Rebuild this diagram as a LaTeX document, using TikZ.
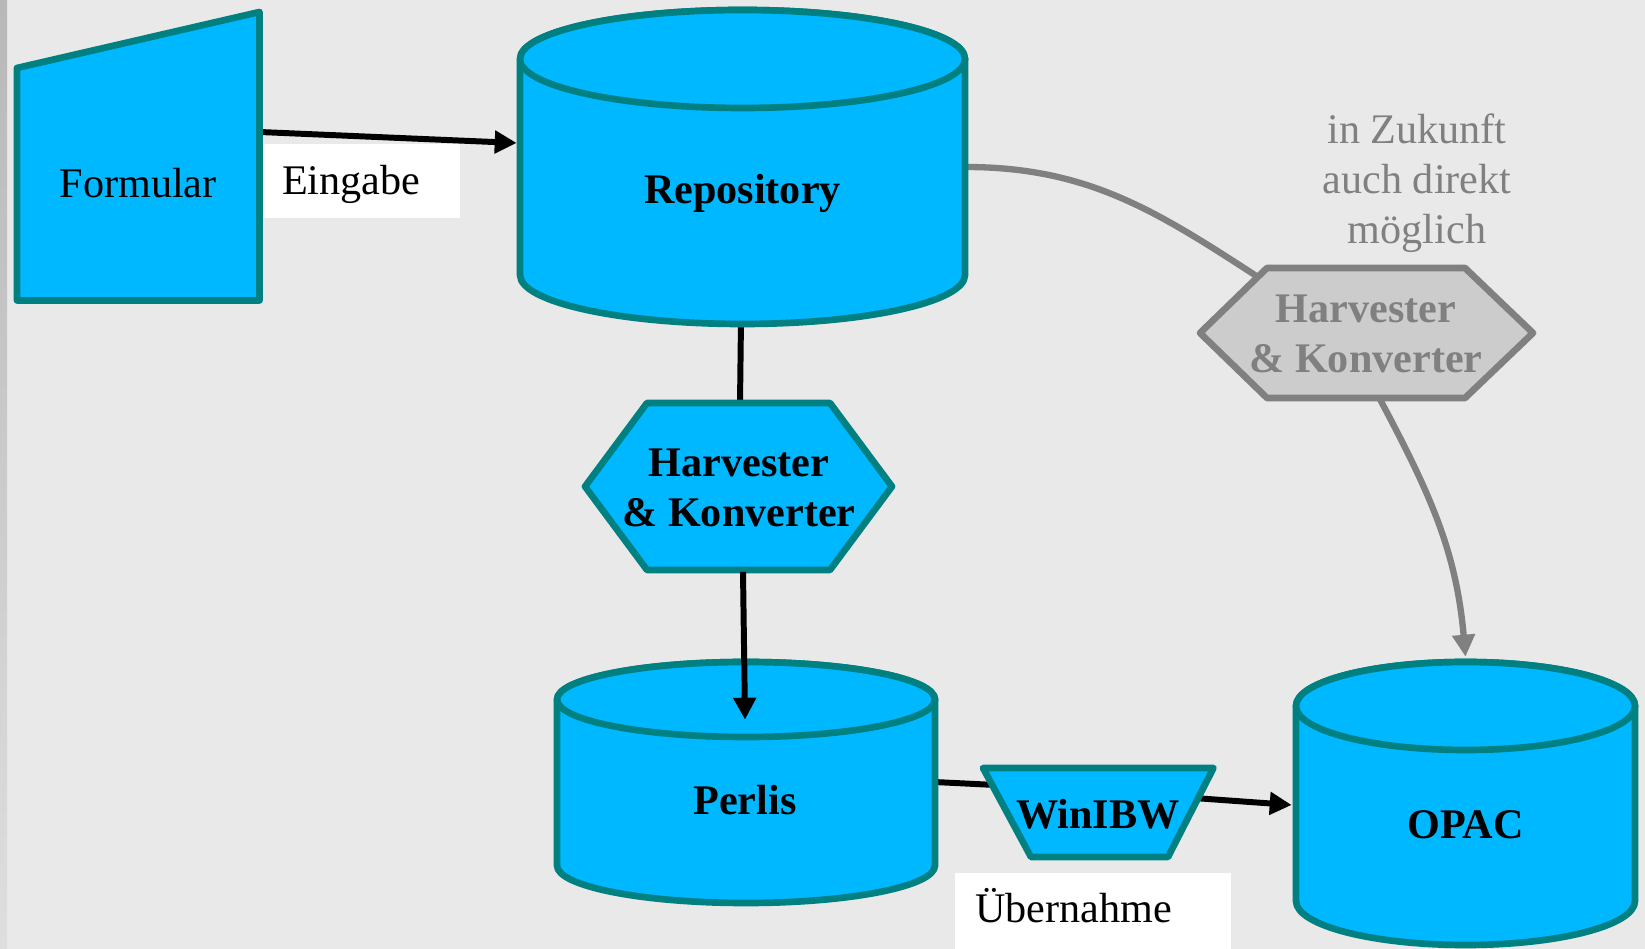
\documentclass[tikz,border=0pt]{standalone}
\usepackage{fontspec}
\setmainfont{Liberation Serif}
\usetikzlibrary{arrows.meta}
\definecolor{nodeblue}{RGB}{0,184,255}
\definecolor{nodeteal}{RGB}{0,128,128}
\definecolor{bggray}{RGB}{233,233,233}
\definecolor{futuregray}{RGB}{128,128,128}
\definecolor{hexgray}{RGB}{204,204,204}
\definecolor{stripdark}{RGB}{184,184,184}
\definecolor{striplight}{RGB}{222,222,222}
\pgfdeclarelayer{bg}
\pgfdeclarelayer{links}
\pgfsetlayers{bg,links,main}
\tikzset{
	shapeline/.style={draw=nodeteal, fill=nodeblue, line width=3.8pt, line join=round},
	greyshape/.style={draw=futuregray, fill=hexgray, line width=3.8pt, line join=round},
	conn/.style={draw=black, line width=3.4pt},
	arrowconn/.style={conn, -{Triangle[length=12.5pt,width=12.5pt]}},
	greyconn/.style={draw=futuregray, line width=3.6pt},
	nodetext/.style={inner sep=0pt, font={\fontsize{24}{28.5}\selectfont\bfseries}, align=center},
	plaintext/.style={inner sep=0pt, font={\fontsize{24}{28.5}\selectfont}, align=center},
	labelbox/.style={plaintext, fill=white, align=left, inner ysep=0pt}
}
\begin{document}
\begin{tikzpicture}[x=0.02cm, y=0.02cm]
		\useasboundingbox (0,0) rectangle (1645,949);
		\begin{pgfonlayer}{bg}
		\fill[bggray] (0,0) rectangle (1645,949);
		\shade[top color=stripdark, bottom color=striplight] (0,0) rectangle (7,949);
		\end{pgfonlayer}
		
		\draw[shapeline] (17,648.5) -- (17,881) -- (259.5,937) -- (259.5,648.5) -- cycle;
		
		\draw[shapeline] (520,890) -- (520,674) arc[start angle=180, end angle=360, x radius=222.5, y radius=49] -- (965,890) arc[start angle=0, end angle=180, x radius=222.5, y radius=49] -- cycle;
		\draw[shapeline] (742.5,890) ellipse [x radius=222.5, y radius=49];
		
		\draw[shapeline] (557,249.5) -- (557,83.5) arc[start angle=180, end angle=360, x radius=189, y radius=37.5] -- (935,249.5) arc[start angle=0, end angle=180, x radius=189, y radius=37.5] -- cycle;
		\draw[shapeline] (746,249.5) ellipse [x radius=189, y radius=37.5];
		
		\draw[shapeline] (1296,243) -- (1296,48) arc[start angle=180, end angle=360, x radius=169.5, y radius=44] -- (1635,243) arc[start angle=0, end angle=180, x radius=169.5, y radius=44] -- cycle;
		\draw[shapeline] (1465.5,243) ellipse [x radius=169.5, y radius=44];
		
		\draw[shapeline] (585,462.5) -- (647,546) -- (830,546) -- (892,462.5) -- (830,379) -- (647,379) -- cycle;
		\draw[greyshape] (1200,616) -- (1267,681) -- (1465,681) -- (1533,616) -- (1465,551) -- (1267,551) -- cycle;
		\draw[shapeline] (983,181) -- (1213.5,181) -- (1168,92) -- (1031,92) -- cycle;
		
		\node[plaintext, minimum width=4.85cm] (formular) at (138.25,766) {Formular};
		\node[labelbox, minimum width=3.94cm, minimum height=1.48cm, text width=3.18cm, inner xsep=0.38cm, text height=20.6pt, text depth=4.8pt] (eingabe) at (361.5,768) {Eingabe};
		\node[nodetext, minimum width=8.9cm] (repo) at (742.5,756) {Repository};
		\node[nodetext, minimum width=6.14cm, minimum height=3.34cm] (hvblue) at (739,461) {Harvester\\\& Konverter};
		\node[nodetext, minimum width=7.56cm, minimum height=3.2cm] (perlis) at (745,149) {Perlis};
		\node[nodetext] (winibw) at (1098,135) {WinIBW};
		\node[labelbox, minimum width=5.52cm, minimum height=1.6cm, text width=4.72cm, inner xsep=0.4cm, text height=15.1pt, text depth=4.8pt] (uebernahme) at (1093,36) {Übernahme};
		\node[nodetext, minimum width=6.78cm, minimum height=6.72cm] (opac) at (1465.5,124) {OPAC};
		\node[nodetext, text=futuregray, minimum width=6.64cm, minimum height=2.6cm] (hvgrey) at (1366,615) {Harvester\\\& Konverter};
		\node[plaintext, text=futuregray] (future) at (1417,766) {in Zukunft\\auch direkt\\möglich};
		
		\begin{pgfonlayer}{links}
		\draw[arrowconn] ([yshift=1.02cm]formular.east) -- ([xshift=-0.06cm, yshift=1cm]repo.west);
		\draw[conn] (repo) -- (hvblue);
		\draw[conn] ([yshift=0.36cm]perlis.east) -- ([yshift=0.56cm]winibw.west);
		\draw[arrowconn] ([yshift=0.34cm]winibw.east) -- ([xshift=-0.08cm, yshift=0.4cm]opac.west);
		\draw[greyconn] ([yshift=0.52cm]repo.east) to[out=0, in=147] ([xshift=-2.1cm, yshift=1.1cm]hvgrey.center);
		\draw[greyconn, -{Triangle[length=12.5pt,width=12.5pt]}] ([xshift=0.28cm]hvgrey.south) to[out=-62, in=95] (opac.north);
		\end{pgfonlayer}
		
		\draw[arrowconn] ([xshift=0.08cm]hvblue.south) -- (perlis.north);
\end{tikzpicture}
\end{document}
